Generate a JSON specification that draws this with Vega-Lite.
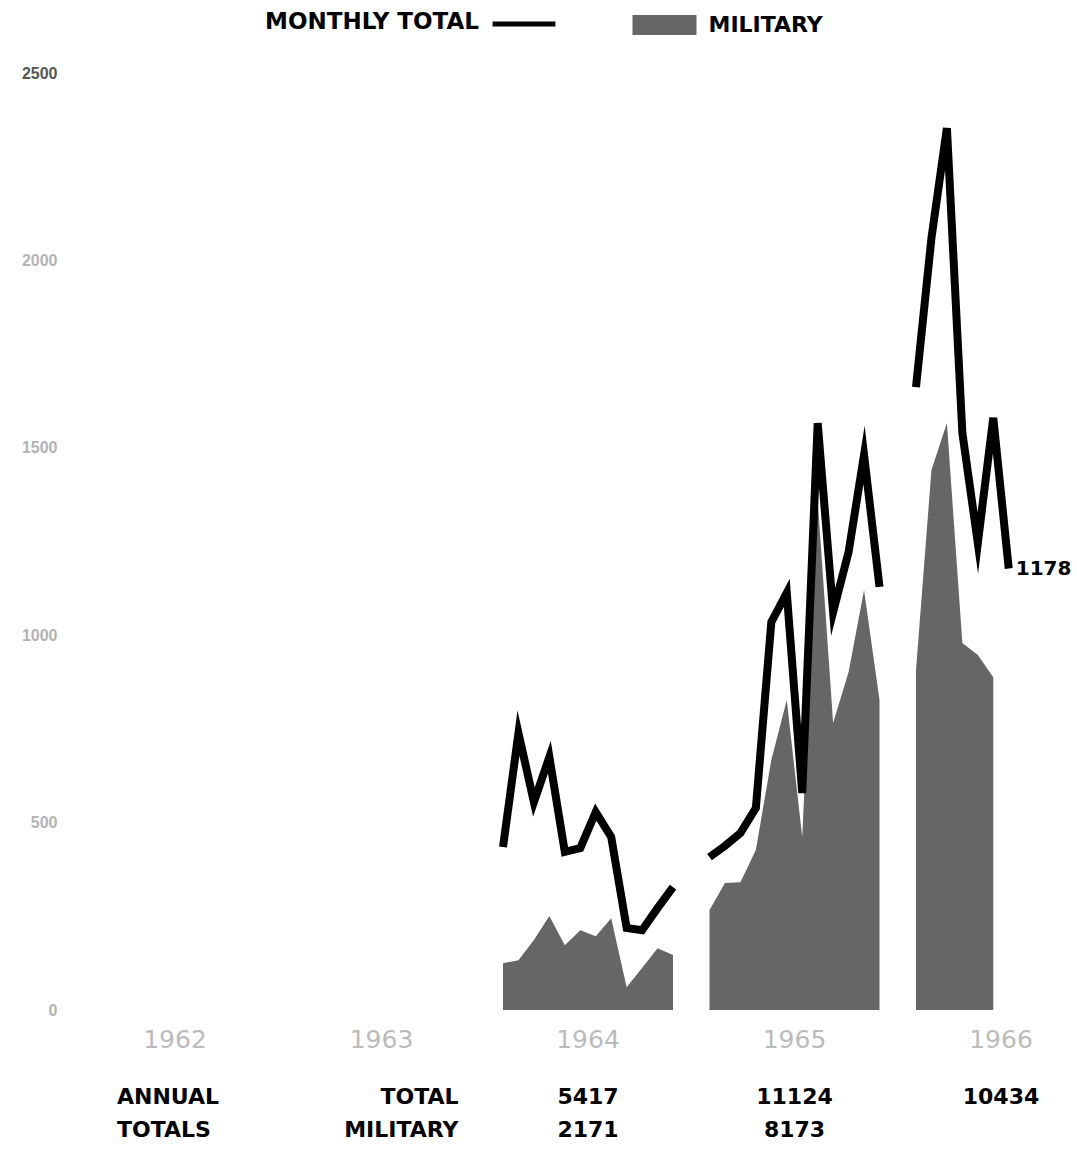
{
  "$schema": "https://vega.github.io/schema/vega-lite/v6.json",
  "background": "white",
  "padding": {"left": 21, "top": 14, "right": 0, "bottom": 0},
  "data": {
    "values": [
      {"year": 1962, "lines": ["ANNUAL", "TOTALS"]},
      {"year": 1963, "lines": ["TOTAL", "MILITARY"]},
      {"year": 1964, "lines": ["5417", "2171"]},
      {"year": 1965, "lines": ["11124", "8173"]},
      {"year": 1966, "lines": ["10434", ""]},
      {"year": 1964, "month": 1, "total": 435, "military": 125},
      {"year": 1964, "month": 2, "total": 739, "military": 133},
      {"year": 1964, "month": 3, "total": 555, "military": 187},
      {"year": 1964, "month": 4, "total": 675, "military": 251},
      {"year": 1964, "month": 5, "total": 422, "military": 173},
      {"year": 1964, "month": 6, "total": 432, "military": 213},
      {"year": 1964, "month": 7, "total": 528, "military": 197},
      {"year": 1964, "month": 8, "total": 462, "military": 245},
      {"year": 1964, "month": 9, "total": 219, "military": 61},
      {"year": 1964, "month": 10, "total": 213, "military": 112},
      {"year": 1964, "month": 11, "total": 272, "military": 165},
      {"year": 1964, "month": 12, "total": 328, "military": 147},
      {"year": 1965, "month": 1, "total": 408, "military": 267},
      {"year": 1965, "month": 2, "total": 438, "military": 339},
      {"year": 1965, "month": 3, "total": 472, "military": 341},
      {"year": 1965, "month": 4, "total": 539, "military": 427},
      {"year": 1965, "month": 5, "total": 1035, "military": 667},
      {"year": 1965, "month": 6, "total": 1113, "military": 827},
      {"year": 1965, "month": 7, "total": 579, "military": 462},
      {"year": 1965, "month": 8, "total": 1566, "military": 1361},
      {"year": 1965, "month": 9, "total": 1062, "military": 766},
      {"year": 1965, "month": 10, "total": 1222, "military": 902},
      {"year": 1965, "month": 11, "total": 1481, "military": 1121},
      {"year": 1965, "month": 12, "total": 1129, "military": 827},
      {"year": 1966, "month": 1, "total": 1662, "military": 907},
      {"year": 1966, "month": 2, "total": 2060, "military": 1441},
      {"year": 1966, "month": 3, "total": 2353, "military": 1566},
      {"year": 1966, "month": 4, "total": 1540, "military": 979},
      {"year": 1966, "month": 5, "total": 1246, "military": 947},
      {"year": 1966, "month": 6, "total": 1580, "military": 888},
      {"year": 1966, "month": 7, "total": 1178, "military": null}
    ]
  },
  "facet": {
    "column": {"field": "year", "type": "ordinal", "header": {"labels": false, "title": null}}
  },
  "spacing": 36.5,
  "bounds": "flush",
  "spec": {
    "width": 170,
    "height": 1072,
    "layer": [
      {
        "mark": {"type": "area", "interpolate": "linear"},
        "encoding": {
          "x": {"field": "month", "type": "quantitative", "scale": {"domain": [1, 12], "nice": false}, "axis": null},
          "y": {
            "field": "military",
            "type": "quantitative",
            "scale": {"domain": [-360, 2500], "nice": false, "zero": false},
            "axis": {
              "values": [0, 500, 1000, 1500, 2000, 2500],
              "format": "d",
              "title": null,
              "domain": false,
              "ticks": false,
              "grid": false,
              "labelPadding": 33,
              "labelFont": "Liberation Sans",
              "labelFontSize": 16,
              "labelFontWeight": "bold",
              "labelColor": {"condition": {"test": "datum.value === 2500", "value": "#555555"}, "value": "#b3b3b3"}
            }
          },
          "y2": {"datum": 0},
          "fill": {
            "datum": "MILITARY",
            "scale": {"range": ["#666666"]},
            "legend": {
              "orient": "none",
              "legendX": 563.5,
              "legendY": -59,
              "title": null,
              "padding": 0,
              "symbolType": "M-3.2,-1H3.2V1H-3.2Z",
              "symbolSize": 400,
              "symbolStrokeWidth": 0,
              "symbolOpacity": 1,
              "labelFont": "DejaVu Sans",
              "labelFontSize": 22,
              "labelFontWeight": "bold",
              "labelColor": "black",
              "labelOffset": 33
            }
          }
        }
      },
      {
        "mark": {"type": "line", "strokeWidth": 8, "strokeJoin": "miter", "strokeMiterLimit": 8, "strokeCap": "butt"},
        "encoding": {
          "x": {"field": "month", "type": "quantitative"},
          "y": {"field": "total", "type": "quantitative"},
          "stroke": {
            "datum": "MONTHLY TOTAL",
            "scale": {"range": ["black"]},
            "legend": {
              "orient": "none",
              "legendX": 175,
              "legendY": -59,
              "title": "MONTHLY TOTAL",
              "titleOrient": "left",
              "titleAnchor": "middle",
              "titleBaseline": "middle",
              "titleLimit": 400,
              "titleFont": "DejaVu Sans",
              "titleFontSize": 23,
              "titleFontWeight": "bold",
              "titleColor": "black",
              "titlePadding": 35,
              "padding": 0,
              "labelExpr": "''",
              "symbolType": "M-3.15,-0.25H3.15V0.25H-3.15Z",
              "symbolSize": 400,
              "symbolFillColor": "black",
              "symbolStrokeWidth": 0
            }
          }
        }
      },
      {
        "transform": [{"filter": "datum.year === 1966 && datum.month === 7"}],
        "mark": {"type": "text", "align": "left", "baseline": "middle", "dx": 7, "font": "DejaVu Sans", "fontSize": 20, "fontWeight": "bold", "color": "black"},
        "encoding": {
          "x": {"field": "month", "type": "quantitative"},
          "y": {"field": "total", "type": "quantitative"},
          "text": {"field": "total", "type": "quantitative", "format": "d"}
        }
      },
      {
        "transform": [{"filter": "datum.month == null"}],
        "mark": {"type": "text", "baseline": "middle", "font": "DejaVu Sans", "fontSize": 25, "color": "#bbbbbb"},
        "encoding": {
          "x": {"datum": 6.5},
          "y": {"datum": -80},
          "text": {"field": "year", "type": "nominal"}
        }
      },
      {
        "transform": [{"filter": "datum.month == null && datum.year === 1962"}],
        "mark": {"type": "text", "align": "left", "baseline": "middle", "dx": 27, "lineHeight": 33, "font": "DejaVu Sans", "fontSize": 22, "fontWeight": "bold", "color": "black"},
        "encoding": {
          "x": {"datum": 1},
          "y": {"datum": -232},
          "text": {"field": "lines", "type": "nominal"}
        }
      },
      {
        "transform": [{"filter": "datum.month == null && datum.year === 1963"}],
        "mark": {"type": "text", "align": "right", "baseline": "middle", "dx": -8, "lineHeight": 33, "font": "DejaVu Sans", "fontSize": 22, "fontWeight": "bold", "color": "black"},
        "encoding": {
          "x": {"datum": 12},
          "y": {"datum": -232},
          "text": {"field": "lines", "type": "nominal"}
        }
      },
      {
        "transform": [{"filter": "datum.month == null && datum.year >= 1964"}],
        "mark": {"type": "text", "align": "center", "baseline": "middle", "lineHeight": 33, "font": "DejaVu Sans", "fontSize": 22, "fontWeight": "bold", "color": "black"},
        "encoding": {
          "x": {"datum": 6.5},
          "y": {"datum": -232},
          "text": {"field": "lines", "type": "nominal"}
        }
      }
    ]
  },
  "config": {
    "view": {"stroke": null}
  }
}
